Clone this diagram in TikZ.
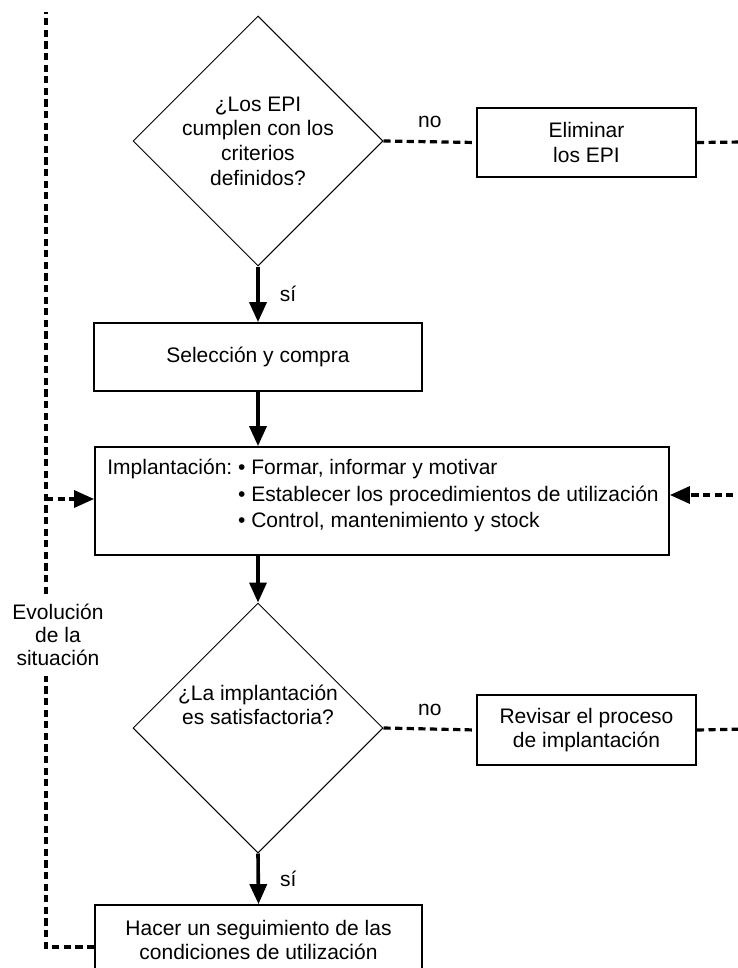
\documentclass[tikz,border=0pt]{standalone}
\usepackage{fontspec}
\setmainfont{Liberation Sans}
\usetikzlibrary{shapes.geometric,arrows.meta}
\begin{document}
\begin{tikzpicture}[x=0.5pt,y=-0.5pt,
  dia/.style={draw,line width=0.5pt,diamond,aspect=1,minimum width=125pt,minimum height=125pt,inner sep=0pt},
  box/.style={draw,line width=0.9pt,rectangle,inner sep=0pt},
  txt/.style={font=\fontsize{10.5}{12.3}\selectfont,align=center,inner sep=0pt},
  flow/.style={line width=1.8pt,-{Triangle[length=10pt,width=8.5pt]}},
  dashline/.style={line width=1.6pt,dash pattern=on 3.6pt off 2.2pt},
  dasharrow/.style={dashline,-{Triangle[length=10pt,width=8.5pt]}},
  lbl/.style={font=\fontsize{10.5}{12.3}\selectfont,inner sep=0pt}
]
\clip (0,0) rectangle (738,968);
\fill[white] (0,0) rectangle (738,968);

% decision 1
\node[dia] (d1) at (258,141) {};
\node[txt] (d1t) at (258,141) {¿Los EPI\\cumplen con los\\criterios\\definidos?};

% eliminar
\node[box,txt,minimum width=109.5pt,minimum height=34.5pt] (elim) at (586.5,142.5) {Eliminar\\los EPI};

% seleccion
\node[box,txt,minimum width=164pt,minimum height=34pt] (sel) at (258,357) {Selección y compra};

% implantacion
\node[box,minimum width=287pt,minimum height=54pt] (impl) at (382,501) {};
\node[anchor=west,inner sep=0pt,font=\fontsize{10.5}{13.2}\selectfont] (implt) at (107,496)
  {\begin{tabular}{@{}l@{\ }l@{}}Implantación: & • Formar, informar y motivar\\
   & • Establecer los procedimientos de utilización\\
   & • Control, mantenimiento y stock\end{tabular}};

% decision 2
\node[dia] (d2) at (258,728) {};
\node[txt] (d2t) at (258,705) {¿La implantación\\es satisfactoria?};

% revisar
\node[box,txt,minimum width=109.5pt,minimum height=35pt] (rev) at (586.5,730) {Revisar el proceso\\de implantación};

% hacer
\node[box,minimum width=163.5pt,minimum height=42pt] (hacer) at (258.5,947) {};
\node[txt] (hacert) at (258.5,940) {Hacer un seguimiento de las\\condiciones de utilización};

% evolucion
\node[txt,font=\fontsize{10.5}{11.5}\selectfont,inner ysep=5pt] (evol) at (58,635) {Evolución\\de la\\situación};

% coordinates for free ends
\coordinate (rt1) at (745,142);
\coordinate (rt2) at (745,729);
\coordinate (rt3) at (745,495);
\coordinate (lt) at (46,12);
\coordinate (lb) at (46,947);
\coordinate (br) at (46,499);

% solid flow
\draw[flow] (d1.south) -- node[lbl,right,xshift=10pt] (si1) {sí} (sel.north);
\draw[flow] (sel.south) -- (sel.south |- impl.north);
\draw[flow] (impl.south -| d2.north) -- (d2.north);
\draw[flow] (d2.south) -- node[lbl,right,xshift=10pt] (si2) {sí} (hacer.north);

% dashed no branches
\draw[dashline] (d1.east) -- node[lbl,above,yshift=6pt] (no1) {no} (elim.west);
\draw[dashline] (elim.east) -- (rt1);
\draw[dashline] (d2.east) -- node[lbl,above,yshift=6pt] (no2) {no} (rev.west);
\draw[dashline] (rev.east) -- (rt2);
\draw[dasharrow] (rt3) -- (rt3 -| impl.east);

% left feedback
\draw[dashline] (hacer.west |- lb) -- (lb) -- (lb |- evol.south);
\draw[dashline] (lb |- evol.north) -- (lt);
\draw[dasharrow] (br) -- (br -| impl.west);
\end{tikzpicture}
\end{document}
